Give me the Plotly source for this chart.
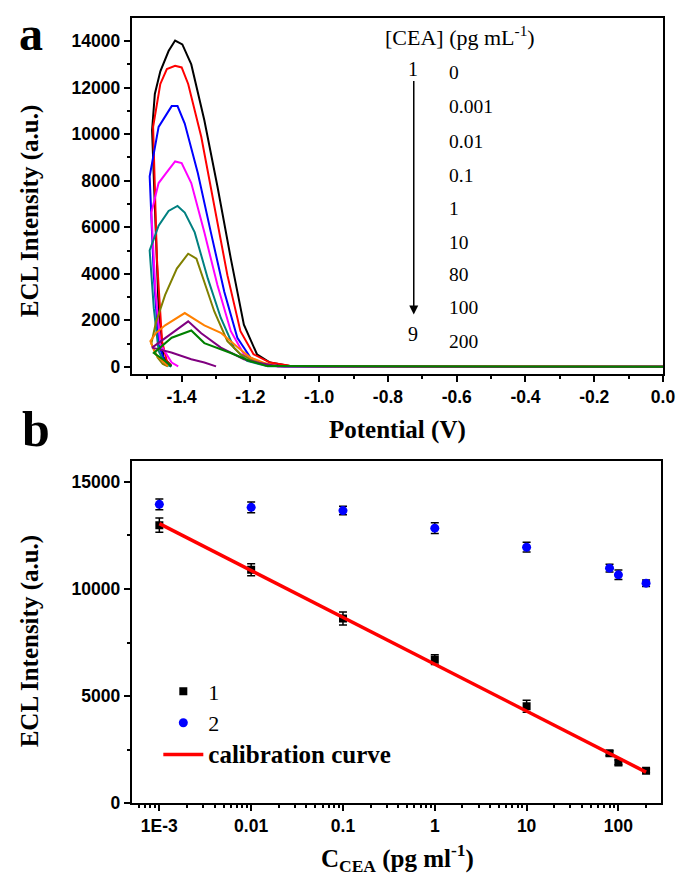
import plotly.graph_objects as go

# panel a: ECL-potential curves, one per CEA concentration
conc_labels = ["0", "0.001", "0.01", "0.1", "1", "10", "80", "100", "200"]
colors = ["#000000", "#ff0000", "#0000ff", "#ff00ff", "#008080",
          "#808000", "#ff8000", "#800080", "#008000"]

v_black = [-1.43, -1.453, -1.467, -1.476, -1.486, -1.478, -1.462, -1.438, -1.419, -1.398, -1.372, -1.334, -1.296, -1.257, -1.219, -1.181, -1.143, -1.086, -1.0, 0.0]
i_black = [50, 400, 2520, 6065, 10170, 11730, 12700, 13575, 14028, 13860, 13000, 10600, 7765, 4650, 1810, 540, 184, 40, 10, 0]

v_red = [-1.43, -1.443, -1.457, -1.472, -1.483, -1.462, -1.443, -1.419, -1.400, -1.381, -1.343, -1.305, -1.267, -1.229, -1.191, -1.143, -1.086, -0.96, 0.0]
i_red = [30, 255, 1105, 4650, 10316, 12160, 12800, 12940, 12870, 12160, 9890, 6915, 3940, 1530, 540, 184, 42, 5, 0]

v_blue = [-1.43, -1.448, -1.467, -1.481, -1.493, -1.467, -1.429, -1.412, -1.391, -1.353, -1.315, -1.276, -1.238, -1.200, -1.162, -1.10, 0.0]
i_blue = [20, 184, 964, 3940, 8190, 10316, 11208, 11208, 10457, 8330, 5780, 3230, 1247, 400, 113, 10, 0]

v_magenta = [-1.41, -1.429, -1.462, -1.476, -1.488, -1.467, -1.438, -1.419, -1.400, -1.372, -1.334, -1.296, -1.257, -1.219, -1.181, -1.12, 0.0]
i_magenta = [20, 184, 964, 3230, 6630, 7900, 8470, 8830, 8760, 7900, 5780, 3515, 1530, 540, 184, 10, 0]

v_teal = [-1.43, -1.448, -1.467, -1.481, -1.493, -1.467, -1.438, -1.412, -1.391, -1.362, -1.324, -1.286, -1.248, -1.210, -1.15, 0.0]
i_teal = [10, 113, 680, 2520, 5000, 6065, 6700, 6915, 6630, 5780, 3800, 2100, 820, 255, 20, 0]

v_olive = [-1.44, -1.455, -1.47, -1.488, -1.475, -1.448, -1.414, -1.381, -1.357, -1.334, -1.305, -1.267, -1.229, -1.191, -1.15, 0.0]
i_olive = [20, 120, 400, 1000, 1900, 3090, 4224, 4862, 4650, 3660, 2380, 1105, 540, 255, 30, 0]

v_orange = [-1.44, -1.457, -1.476, -1.491, -1.475, -1.448, -1.391, -1.334, -1.286, -1.238, -1.200, -1.162, -1.12, 0.0]
i_orange = [30, 255, 540, 1105, 1450, 1785, 2312, 1780, 1462, 850, 400, 180, 30, 0]

v_purple = [-1.30, -1.334, -1.372, -1.430, -1.486, -1.438, -1.381, -1.343, -1.286, -1.219, -1.181, -1.12, 0.0]
i_purple = [20, 187, 328, 612, 824, 1340, 1955, 1445, 824, 328, 187, 20, 0]

v_green = [-1.43, -1.448, -1.481, -1.429, -1.372, -1.334, -1.257, -1.200, -1.15, 0.0]
i_green = [20, 255, 595, 1250, 1560, 1020, 595, 240, 30, 0]

curves_v = [v_black, v_red, v_blue, v_magenta, v_teal, v_olive, v_orange, v_purple, v_green]
curves_i = [i_black, i_red, i_blue, i_magenta, i_teal, i_olive, i_orange, i_purple, i_green]

# panel b: calibration data
cea = [0.001, 0.01, 0.1, 1, 10, 80, 100, 200]
ecl_1 = [12980, 10900, 8620, 6700, 4530, 2330, 1900, 1510]
err_1 = [330, 280, 300, 230, 280, 120, 110, 80]
ecl_2 = [13950, 13810, 13660, 12840, 11950, 10970, 10660, 10270]
err_2 = [250, 250, 200, 250, 230, 180, 220, 150]
calib_x = [0.001, 200]
calib_y = [13050, 1450]

W, H = 685, 880
def px(x):
    return x / W
def py(y):
    return 1 - y / H

SERIF = "Liberation Serif"
SANS = "Liberation Sans"

fig = go.Figure()

for k in range(len(curves_v)):
    fig.add_trace(go.Scatter(x=curves_v[k], y=curves_i[k], mode="lines",
                             line=dict(color=colors[k], width=2),
                             name=conc_labels[k], showlegend=False,
                             xaxis="x", yaxis="y"))

fig.add_trace(go.Scatter(x=cea, y=ecl_1, mode="markers", name="1",
                         marker=dict(symbol="square", size=8, color="black"),
                         error_y=dict(type="data", array=err_1, color="black",
                                      thickness=1.5, width=4),
                         xaxis="x2", yaxis="y2", legendgroup="g1"))
fig.add_trace(go.Scatter(x=cea, y=ecl_2, mode="markers", name="2",
                         marker=dict(symbol="circle", size=9, color="#0000ff"),
                         error_y=dict(type="data", array=err_2, color="black",
                                      thickness=1.5, width=4),
                         xaxis="x2", yaxis="y2", legendgroup="g2"))
fig.add_trace(go.Scatter(x=calib_x, y=calib_y, mode="lines",
                         name='<span style="font-size:25px"><b>calibration curve</b></span>',
                         line=dict(color="#ff0000", width=3.5),
                         xaxis="x2", yaxis="y2", legendgroup="g3"))

axis_common = dict(showline=True, linecolor="black", linewidth=2, mirror=True,
                   ticks="outside", tickcolor="black", tickwidth=1.5, ticklen=6,
                   showgrid=False, zeroline=False,
                   tickfont=dict(family=SANS, size=17.5, color="black", weight="bold"))
minor_common = dict(ticks="outside", ticklen=3, tickcolor="black", tickwidth=1.5,
                    tickmode="array")

fig.update_layout(
    width=W, height=H,
    margin=dict(l=0, r=0, t=0, b=0),
    paper_bgcolor="white", plot_bgcolor="white",
    xaxis=dict(axis_common, domain=[px(126), px(666.7)], anchor="y",
               range=[-1.545, 0], tickmode="array",
               tickvals=[-1.4, -1.2, -1.0, -0.8, -0.6, -0.4, -0.2, 0.0],
               ticktext=["-1.4", "-1.2", "-1.0", "-0.8", "-0.6", "-0.4", "-0.2", "0.0"],
               minor=dict(minor_common,
                          tickvals=[-1.5, -1.3, -1.1, -0.9, -0.7, -0.5, -0.3, -0.1])),
    yaxis=dict(axis_common, domain=[py(370), py(10)], anchor="x",
               range=[-300, 15000], tickmode="array", tickformat="d",
               tickvals=[0, 2000, 4000, 6000, 8000, 10000, 12000, 14000],
               minor=dict(minor_common,
                          tickvals=[1000, 3000, 5000, 7000, 9000, 11000, 13000])),
    xaxis2=dict(axis_common, type="log", domain=[px(126), px(664.3)], anchor="y2",
                range=[-3.30, 2.46], tickmode="array",
                tickvals=[0.001, 0.01, 0.1, 1, 10, 100],
                ticktext=["1E-3", "0.01", "0.1", "1", "10", "100"],
                minor=dict(minor_common,
                           tickvals=[m * 10 ** e for e in range(-4, 3) for m in range(2, 10)])),
    yaxis2=dict(axis_common, domain=[py(804.3), py(458.3)], anchor="x2",
                range=[0, 15970], tickmode="array", tickformat="d",
                tickvals=[0, 5000, 10000, 15000],
                minor=dict(minor_common, tickvals=[2500, 7500, 12500])),
    legend=dict(x=px(153), y=py(670), xanchor="left", yanchor="top",
                bgcolor="rgba(0,0,0,0)", tracegroupgap=0, itemwidth=40,
                font=dict(family=SERIF, size=22, color="black")),
)

ann = []
def text(x, y, s, size, family=SERIF, bold=False, angle=0, xanchor="center"):
    ann.append(dict(x=px(x), y=py(y), xref="paper", yref="paper", text=s,
                    showarrow=False, textangle=angle, xanchor=xanchor, yanchor="middle",
                    font=dict(family=family, size=size, color="black",
                              weight="bold" if bold else "normal")))

text(23, 26, "a", 48, bold=True)
text(28, 426, "b", 50, bold=True)
text(22, 205, "ECL Intensity (a.u.)", 25, bold=True, angle=-90)
text(22, 640, "ECL Intensity (a.u.)", 25, bold=True, angle=-90)
text(396, 427, "Potential (V)", 25, bold=True)
text(396, 860, "C<sub>CEA</sub> (pg ml<sup>-1</sup>)", 25, bold=True)
text(460, 28, "[CEA] (pg mL<sup>-1</sup>)", 22)
text(412, 62, "1", 20)
text(412, 330, "9", 20)
row_y = [65, 100, 135, 169, 203, 237, 270, 303, 337]
for k in range(len(conc_labels)):
    text(447, row_y[k], conc_labels[k], 19.5, xanchor="left")
# arrow from curve 1 to curve 9
ann.append(dict(x=px(413), y=py(310), xref="paper", yref="paper",
                ax=0, ay=-235, axref="pixel", ayref="pixel",
                text="", showarrow=True, arrowhead=2, arrowsize=1.2,
                arrowwidth=1.5, arrowcolor="black"))
fig.update_layout(annotations=ann)

fig.write_html("out.html")
